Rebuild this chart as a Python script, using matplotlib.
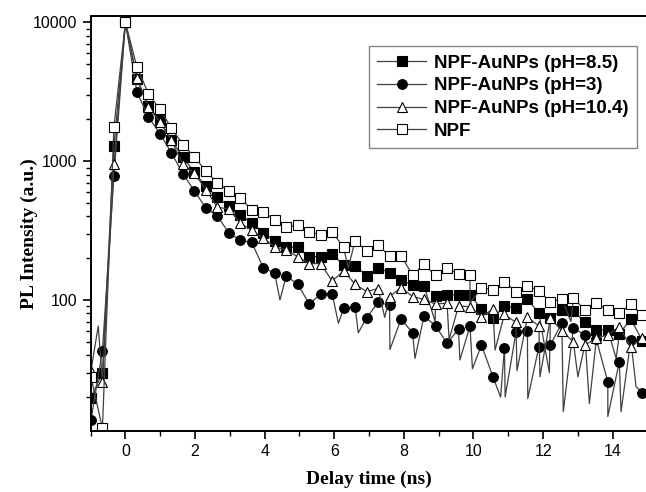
import matplotlib
matplotlib.use("Agg")
import matplotlib.pyplot as plt
import numpy as np
from matplotlib.ticker import FixedLocator, FuncFormatter, LogLocator, MultipleLocator, NullFormatter

# delay time of the plotted (marked) channels, ns
delay_ns = [-0.99, -0.66, -0.33, 0.0, 0.33, 0.66, 0.99, 1.32, 1.65, 1.98,
            2.31, 2.64, 2.97, 3.30, 3.63, 3.96, 4.29, 4.62, 4.95, 5.28,
            5.61, 5.94, 6.27, 6.60, 6.93, 7.26, 7.59, 7.92, 8.25, 8.58,
            8.91, 9.24, 9.57, 9.90, 10.23, 10.56, 10.89, 11.22, 11.55, 11.88,
            12.21, 12.54, 12.87, 13.20, 13.53, 13.86, 14.19, 14.52, 14.85]

ph85 = [19.7, 30, 1280, 10000, 3900, 2490, 1970, 1415, 1075, 830,
        660, 553, 474, 409, 360, 305, 268, 241, 239, 205,
        205, 213, 179, 177, 149, 171, 157, 139, 128, 126,
        107, 109, 109, 109, 86, 74, 91, 87, 102, 80,
        74, 85, 83, 70, 61, 61, 57, 73, 51]

ph3 = [13.7, 43, 780, 10000, 3160, 2080, 1580, 1150, 815, 611,
       461, 402, 305, 270, 260, 171, 156, 149, 130, 94,
       110, 111, 87, 89.5, 74.6, 96, 92, 73, 58, 77,
       65, 49, 61.5, 65, 47.5, 28, 45.4, 58.4, 60, 46,
       47.5, 68.4, 63, 56, 52, 25.8, 36, 51.5, 21.5]

ph104 = [31, 25.7, 950, 10000, 4000, 2460, 1920, 1415, 950, 820,
         625, 466, 452, 358, 317, 278, 242, 229, 205, 183,
         183, 137, 162, 130, 115, 121, 106, 123, 106, 101,
         93.5, 95, 90.5, 89.5, 76, 86, 79, 69, 75, 65,
         74, 60, 50, 47.5, 53, 56, 64, 46, 53]

npf = [28, 11.9, 1760, 10000, 4770, 3070, 2360, 1740, 1318, 1075,
       850, 700, 610, 540, 448, 430, 380, 334, 347, 310,
       294, 310, 239, 267, 226, 249, 207, 209, 151, 181,
       151, 169, 154, 151, 123, 119, 135, 115, 127, 116,
       97, 102, 103, 85, 95, 85, 80, 93, 78]

# noisy dips of the raw traces between marked channels
ph3_dip_t = [4.44, 6.12, 6.69, 7.60, 8.32, 9.61, 9.97, 10.78, 10.91, 11.56,
             12.58, 13.33, 13.86, 14.24, 14.67]
ph3_dip_v = [100, 68, 58, 44, 38, 37, 32, 20, 20, 19.5,
             15.7, 18, 14.5, 15.7, 23.8]
ph104_dip_t = [-0.78, 7.45, 9.30, 10.62, 11.25, 11.91, 13.0]
ph104_dip_v = [65, 75, 52, 43.6, 31, 28, 28]
ph85_dip_t = [8.9, 12.18, 14.1]
ph85_dip_v = [70, 30, 38]
npf_dip_t = [6.4, 9.9, 12.8]
npf_dip_v = [170, 95, 70]

labels = ["NPF-AuNPs (pH=8.5)", "NPF-AuNPs (pH=3)", "NPF-AuNPs (pH=10.4)", "NPF"]


def merge_trace(t, v, dip_t, dip_v):
    tt = np.concatenate([np.asarray(t, float), np.asarray(dip_t, float)])
    vv = np.concatenate([np.asarray(v, float), np.asarray(dip_v, float)])
    order = np.argsort(tt, kind="stable")
    marks = [i for i, o in enumerate(order) if o < len(t)]
    return tt[order], vv[order], marks


plt.rcParams["font.family"] = "Liberation Sans"

fig = plt.figure(figsize=(6.46, 4.92), dpi=100)
ax = fig.add_axes([90.6 / 646, 1 - 431 / 492, (647.5 - 90.6) / 646, (431 - 16) / 492])

series = [
    (ph85, ph85_dip_t, ph85_dip_v, dict(marker="s", mfc="black", ms=6.5)),
    (ph3, ph3_dip_t, ph3_dip_v, dict(marker="o", mfc="black", ms=7)),
    (ph104, ph104_dip_t, ph104_dip_v, dict(marker="^", mfc="white", ms=7.5)),
    (npf, npf_dip_t, npf_dip_v, dict(marker="s", mfc="white", ms=6.5)),
]

for (vals, dt, dv, style), lab in zip(series, labels):
    tt, vv, marks = merge_trace(delay_ns, vals, dt, dv)
    ax.plot(tt, vv, color="0.25", lw=0.9, markevery=marks, mec="black",
            mew=0.8, label=lab, **style)

ax.set_yscale("log")
ax.set_xlim(-1.0, 15.0)
ax.set_ylim(11.4, 11100)

ax.xaxis.set_major_locator(MultipleLocator(2))
ax.xaxis.set_minor_locator(MultipleLocator(1))
ax.yaxis.set_major_locator(FixedLocator([10, 100, 1000, 10000]))
ax.yaxis.set_major_formatter(FuncFormatter(lambda v, p: f"{int(round(v))}"))
ax.yaxis.set_minor_locator(LogLocator(base=10, subs=np.arange(2, 10)))
ax.yaxis.set_minor_formatter(NullFormatter())

ax.tick_params(which="major", direction="out", length=6, width=1.2, labelsize=11.5)
ax.tick_params(which="minor", direction="out", length=3.5, width=1.0)
ax.tick_params(top=False, right=False, which="both")

ax.spines["right"].set_visible(False)
for s in ("left", "bottom", "top"):
    ax.spines[s].set_linewidth(1.4)

ax.set_xlabel("Delay time (ns)", family="Liberation Serif", weight="bold", fontsize=14)
ax.set_ylabel("PL Intensity (a.u.)", family="Liberation Serif", weight="bold", fontsize=14)
ax.yaxis.set_label_coords(-0.095, 0.475)
ax.xaxis.set_label_coords(0.5, -0.095)

leg = ax.legend(loc="upper left", bbox_to_anchor=(369 / 646, 1 - 46 / 492),
                bbox_transform=fig.transFigure, numpoints=1, handlelength=2.6,
                handletextpad=0.4, borderpad=0.45, labelspacing=0.3,
                borderaxespad=0, fancybox=False,
                prop={"family": "Liberation Sans", "weight": "bold", "size": 13.5})
leg.get_frame().set_edgecolor("0.4")
leg.get_frame().set_linewidth(1.0)

fig.savefig("out.png", dpi=100)
